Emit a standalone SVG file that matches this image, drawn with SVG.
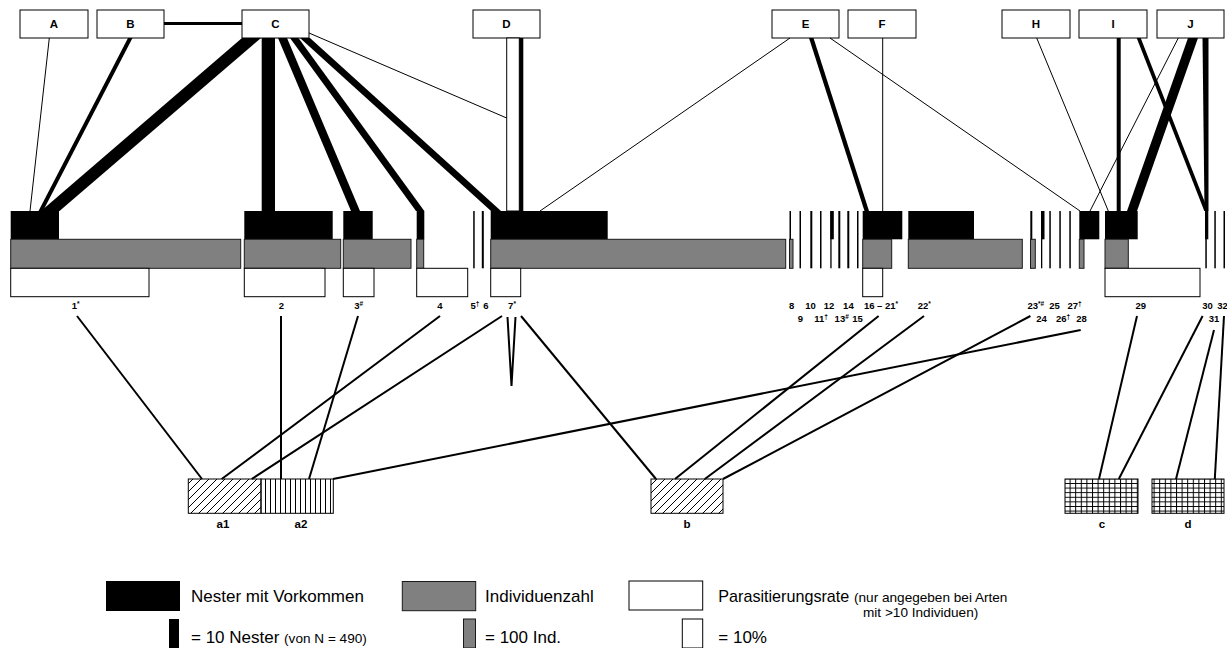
<svg xmlns="http://www.w3.org/2000/svg" width="1227" height="648" viewBox="0 0 1227 648">
<style>
.box{fill:#fff;stroke:#000;stroke-width:1}
.lbl{font-family:"Liberation Sans",Arial,sans-serif;font-weight:bold;font-size:11.5px;text-anchor:middle}
.nest{fill:#000}
.ind{fill:#808080;stroke:#1a1a1a;stroke-width:1}
.par{fill:#fff;stroke:#000;stroke-width:1}
.num{font-family:"Liberation Sans",Arial,sans-serif;font-weight:bold;font-size:9.5px;text-anchor:middle}
.sup{font-size:6.5px}
.thin{stroke:#000;stroke-width:1;fill:none}
.link{stroke:#000;stroke-width:2;fill:none}
.band{fill:#000}
.leg{font-family:"Liberation Sans",Arial,sans-serif;font-size:17px}
.small{font-size:13.6px}
.tick{fill:#000}
</style>
<defs>
<pattern id="diag" width="8" height="8" patternUnits="userSpaceOnUse">
<path d="M-1,1 L1,-1 M0,8 L8,0 M7,9 L9,7" stroke="#000" stroke-width="1"/>
</pattern>
<pattern id="vert" width="5" height="10" patternUnits="userSpaceOnUse">
<line x1="0.5" y1="0" x2="0.5" y2="10" stroke="#000" stroke-width="1"/>
</pattern>
<pattern id="grid" width="5.6" height="4.6" patternUnits="userSpaceOnUse">
<path d="M0.5,0 V4.6 M0,0.5 H5.6" stroke="#000" stroke-width="1"/>
</pattern>
</defs>
<rect width="1227" height="648" fill="#fff"/>

<!-- upper row: host boxes -->
<g id="host-A"><rect class="box" x="20" y="10" width="68" height="28"/><text class="lbl" x="54" y="28">A</text></g>
<g id="host-B"><rect class="box" x="97" y="10" width="67" height="28"/><text class="lbl" x="130.5" y="28">B</text></g>
<g id="host-C"><rect class="box" x="242" y="10" width="67" height="28"/><text class="lbl" x="275.5" y="28">C</text></g>
<g id="host-D"><rect class="box" x="473" y="10" width="67" height="28"/><text class="lbl" x="506.5" y="28">D</text></g>
<g id="host-E"><rect class="box" x="772" y="10" width="67" height="28"/><text class="lbl" x="805.5" y="28">E</text></g>
<g id="host-F"><rect class="box" x="848" y="10" width="68" height="28"/><text class="lbl" x="882" y="28">F</text></g>
<g id="host-H"><rect class="box" x="1002" y="10" width="68" height="28"/><text class="lbl" x="1036" y="28">H</text></g>
<g id="host-I"><rect class="box" x="1079" y="10" width="68" height="28"/><text class="lbl" x="1113" y="28">I</text></g>
<g id="host-J"><rect class="box" x="1157" y="10" width="67" height="28"/><text class="lbl" x="1190.5" y="28">J</text></g>

<!-- connectors -->
<g id="connectors">
<line x1="164" y1="23.5" x2="242" y2="23.5" stroke="#000" stroke-width="3"/>
<line class="thin" x1="49.3" y1="38" x2="30" y2="211"/>
<polygon class="band" points="128,38 132.5,38 43,211 38.5,211"/>
<polygon class="band" points="242,38 261,38 59.5,211 41,211"/>
<polygon class="band" points="261.7,38 275,38 275,211 261.7,211"/>
<polygon class="band" points="278,38 287,38 360,211 351,211"/>
<polygon class="band" points="290,38 298.5,38 424.3,211 416,211"/>
<polygon class="band" points="300,38 310,38 501,211 491,211"/>
<line class="thin" x1="309" y1="33" x2="506.7" y2="118"/>
<rect x="506.7" y="38" width="12.6" height="173" fill="#fff" stroke="#000" stroke-width="1"/>
<rect x="519.3" y="38" width="4" height="173" fill="#000"/>
<line class="thin" x1="790" y1="38" x2="540" y2="211"/>
<polygon class="band" points="809,38 813.5,38 869,211 864.5,211"/>
<line class="thin" x1="830" y1="38" x2="1080" y2="211"/>
<line class="thin" x1="882.7" y1="38" x2="882.7" y2="211"/>
<line class="thin" x1="1036.7" y1="38" x2="1108.3" y2="211"/>
<line class="thin" x1="1178.3" y1="38" x2="1090" y2="211"/>
<polygon class="band" points="1116.7,38 1120.7,38 1120.7,211 1116.7,211"/>
<polygon class="band" points="1136.7,38 1140.7,38 1208.3,211 1204.3,211"/>
<polygon class="band" points="1188,38 1198,38 1137,211 1127,211"/>
<polygon class="band" points="1202.5,38 1208.5,38 1208.5,211 1204.5,211"/>

<!-- species to groups -->
<line class="link" x1="77" y1="316" x2="202" y2="479"/>
<line class="link" x1="281" y1="316" x2="281" y2="479"/>
<line class="link" x1="358" y1="316" x2="309" y2="479"/>
<line class="link" x1="440" y1="316" x2="221.7" y2="479"/>
<line class="link" x1="502" y1="316" x2="251.7" y2="479"/>
<line class="link" x1="521" y1="316" x2="656" y2="479"/>
<path class="link" d="M507.5,317 Q509.5,350 511.5,386 Q513.5,350 515.5,317"/>
<line class="link" x1="878.6" y1="316" x2="675" y2="479"/>
<line class="link" x1="924" y1="316" x2="704.8" y2="479"/>
<line class="link" x1="1030.4" y1="316" x2="723" y2="479"/>
<line class="link" x1="1080.7" y1="330" x2="333" y2="479"/>
<line class="link" x1="1137" y1="316" x2="1099" y2="479"/>
<line class="link" x1="1202.6" y1="316" x2="1118.8" y2="479"/>
<line class="link" x1="1214" y1="330" x2="1176" y2="479"/>
<line class="link" x1="1224" y1="316" x2="1214.8" y2="479"/>
</g>

<!-- species bars: nests (black), individuals (grey), parasitism (white) -->
<g id="sp1"><rect class="nest" x="10.7" y="211" width="48.3" height="28.3"/><rect class="ind" x="10.7" y="239.3" width="230" height="29"/><rect class="par" x="10.7" y="268.3" width="138.3" height="28.4"/></g>
<g id="sp2"><rect class="nest" x="244.3" y="211" width="88.4" height="28.3"/><rect class="ind" x="244.3" y="239.3" width="96.4" height="29"/><rect class="par" x="244.3" y="268.3" width="80.7" height="28.4"/></g>
<g id="sp3"><rect class="nest" x="343.3" y="211" width="29.4" height="28.3"/><rect class="ind" x="343.3" y="239.3" width="67.7" height="29"/><rect class="par" x="343.3" y="268.3" width="30.7" height="28.4"/></g>
<g id="sp4"><rect class="nest" x="416.7" y="211" width="7.6" height="28.3"/><rect class="ind" x="416.7" y="239.3" width="7" height="29"/><rect class="par" x="416.7" y="268.3" width="51" height="28.4"/></g>
<g id="sp5"><rect class="tick" x="473.2" y="211" width="1.5" height="57.3"/></g>
<g id="sp6"><rect class="tick" x="481.8" y="211" width="2" height="57.3"/></g>
<g id="sp7"><rect class="nest" x="490.7" y="211" width="117" height="28.3"/><rect class="ind" x="490.7" y="239.3" width="295" height="29"/><rect class="par" x="490.7" y="268.3" width="30" height="28.4"/></g>
<g id="sp8"><rect class="tick" x="789.5" y="211" width="1.5" height="57.3"/><rect class="ind" x="789.5" y="239.3" width="3.5" height="29"/></g>
<g id="sp9"><rect class="tick" x="799.5" y="211" width="1.5" height="57.3"/></g>
<g id="sp10"><rect class="tick" x="810.3" y="211" width="2" height="57.3"/></g>
<g id="sp11"><rect class="tick" x="820" y="211" width="1.5" height="57.3"/></g>
<g id="sp12"><rect class="tick" x="830.3" y="211" width="1.3" height="57.3"/><rect class="nest" x="830.3" y="211" width="3.5" height="28.3"/></g>
<g id="sp13"><rect class="tick" x="838.3" y="211" width="2" height="57.3"/></g>
<g id="sp14"><rect class="tick" x="847.3" y="211" width="2" height="57.3"/></g>
<g id="sp15"><rect class="tick" x="857" y="211" width="1.5" height="57.3"/></g>
<g id="sp16-21"><rect class="nest" x="862.7" y="211" width="39.6" height="28.3"/><rect class="ind" x="862.7" y="239.3" width="29" height="29"/><rect class="par" x="862.7" y="268.3" width="20" height="28.4"/></g>
<g id="sp22"><rect class="nest" x="908.3" y="211" width="65.7" height="28.3"/><rect class="ind" x="908.3" y="239.3" width="114" height="29"/></g>
<g id="sp23"><rect class="tick" x="1030.3" y="211" width="2" height="57.3"/><rect class="ind" x="1030.5" y="239.3" width="4.8" height="29"/></g>
<g id="sp24"><rect class="tick" x="1041" y="211" width="1.3" height="57.3"/><rect class="nest" x="1041" y="211" width="3.5" height="28.3"/></g>
<g id="sp25"><rect class="tick" x="1049.3" y="211" width="1.5" height="57.3"/></g>
<g id="sp26"><rect class="tick" x="1059.3" y="211" width="1.5" height="57.3"/></g>
<g id="sp27"><rect class="tick" x="1069.3" y="211" width="1.5" height="57.3"/></g>
<g id="sp28"><rect class="nest" x="1079.3" y="211" width="20" height="28.3"/><rect class="ind" x="1079.3" y="239.3" width="4.7" height="29"/></g>
<g id="sp29"><rect class="nest" x="1105" y="211" width="32.7" height="28.3"/><rect class="ind" x="1105" y="239.3" width="23.3" height="29"/><rect class="par" x="1105" y="268.3" width="95" height="28.4"/></g>
<g id="sp30"><rect class="tick" x="1205.3" y="211" width="1.5" height="57.3"/><rect class="nest" x="1205" y="211" width="3.3" height="28.3"/></g>
<g id="sp31"><rect class="tick" x="1214.3" y="211" width="1.5" height="57.3"/></g>
<g id="sp32"><rect class="tick" x="1223.5" y="211" width="1.5" height="57.3"/></g>

<!-- species numbers -->
<g id="numbers">
<text class="num" x="75.7" y="309">1<tspan class="sup" dy="-3">*</tspan></text>
<text class="num" x="281.4" y="309">2</text>
<text class="num" x="358.7" y="309">3<tspan class="sup" dy="-3">#</tspan></text>
<text class="num" x="475" y="309">5<tspan class="sup" dy="-3">†</tspan></text>
<text class="num" x="440" y="309">4</text>
<text class="num" x="486" y="309">6</text>
<text class="num" x="512" y="309">7<tspan class="sup" dy="-3">*</tspan></text>
<text class="num" x="791.6" y="309">8</text>
<text class="num" x="810.6" y="309">10</text>
<text class="num" x="829" y="309">12</text>
<text class="num" x="848.4" y="309">14</text>
<text class="num" x="881" y="309">16 – 21<tspan class="sup" dy="-3">*</tspan></text>
<text class="num" x="924.3" y="309">22<tspan class="sup" dy="-3">*</tspan></text>
<text class="num" x="800.5" y="322">9</text>
<text class="num" x="821" y="322">11<tspan class="sup" dy="-3">†</tspan></text>
<text class="num" x="841.7" y="322">13<tspan class="sup" dy="-3">#</tspan></text>
<text class="num" x="857.5" y="322">15</text>
<text class="num" x="1035.8" y="309">23<tspan class="sup" dy="-3">*#</tspan></text>
<text class="num" x="1054.5" y="309">25</text>
<text class="num" x="1074.5" y="309">27<tspan class="sup" dy="-3">†</tspan></text>
<text class="num" x="1041.5" y="322">24</text>
<text class="num" x="1063" y="322">26<tspan class="sup" dy="-3">†</tspan></text>
<text class="num" x="1081.5" y="322">28</text>
<text class="num" x="1140.7" y="309">29</text>
<text class="num" x="1207.5" y="309">30</text>
<text class="num" x="1222.5" y="309">32</text>
<text class="num" x="1214" y="322">31</text>
</g>

<!-- lower row: groups -->
<g id="group-a1"><rect x="188.3" y="479" width="72.7" height="34.3" fill="url(#diag)" stroke="#000" stroke-width="1"/><text class="lbl" x="223" y="528">a1</text></g>
<g id="group-a2"><rect x="261" y="479" width="72.3" height="34.3" fill="url(#vert)" stroke="#000" stroke-width="1"/><text class="lbl" x="301" y="528">a2</text></g>
<g id="group-b"><rect x="651" y="479" width="72" height="34.3" fill="url(#diag)" stroke="#000" stroke-width="1"/><text class="lbl" x="687" y="528">b</text></g>
<g id="group-c"><rect x="1065" y="479" width="73" height="34.3" fill="url(#grid)" stroke="#000" stroke-width="1"/><text class="lbl" x="1102" y="528">c</text></g>
<g id="group-d"><rect x="1152" y="479" width="72" height="34.3" fill="url(#grid)" stroke="#000" stroke-width="1"/><text class="lbl" x="1188" y="528">d</text></g>

<!-- legend -->
<g id="legend">
<rect x="106" y="581" width="74" height="30" fill="#000"/>
<text class="leg" x="191" y="601.5">Nester mit Vorkommen</text>
<rect x="169" y="619" width="10" height="29" fill="#000"/>
<text class="leg" x="191" y="643">= 10 Nester <tspan class="small">(von N = 490)</tspan></text>
<rect x="402.3" y="581.5" width="73.4" height="29.2" fill="#808080" stroke="#1a1a1a" stroke-width="1"/>
<text class="leg" x="485" y="601.5">Individuenzahl</text>
<rect x="463.5" y="619" width="12" height="29" fill="#808080" stroke="#1a1a1a" stroke-width="1"/>
<text class="leg" x="485" y="643">= 100 Ind.</text>
<rect x="629" y="581" width="73.7" height="29" fill="#fff" stroke="#000" stroke-width="1"/>
<text class="leg" x="718.3" y="601.5" textLength="131" lengthAdjust="spacingAndGlyphs">Parasitierungsrate</text>
<text class="leg small" x="854" y="601.5">(nur angegeben bei Arten</text>
<text class="leg small" x="863" y="617">mit &gt;10 Individuen)</text>
<rect x="682.3" y="619" width="20.4" height="29" fill="#fff" stroke="#000" stroke-width="1"/>
<text class="leg" x="718.3" y="643">= 10%</text>
</g>
</svg>
